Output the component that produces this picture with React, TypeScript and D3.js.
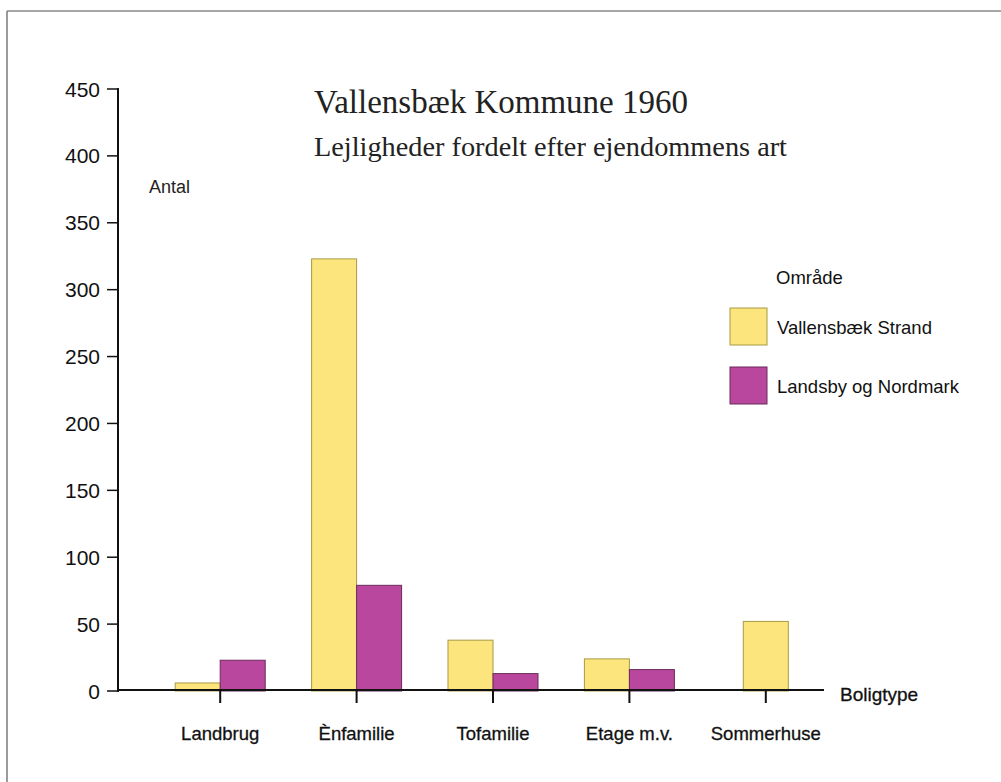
import React from "react";
import * as d3 from "d3";

// Lejligheder fordelt efter ejendommens art, Vallensbæk Kommune 1960
const categories = ["Landbrug", "Ènfamilie", "Tofamilie", "Etage m.v.", "Sommerhuse"];
const seriesNames = ["Vallensbæk Strand", "Landsby og Nordmark"];
const strandValues = [6, 323, 38, 24, 52];
const landsbyValues: (number | null)[] = [23, 79, 13, 16, null];
const yTicks = [0, 50, 100, 150, 200, 250, 300, 350, 400, 450];

const colors = ["#fce57c", "#b9479d"];
const strokes = ["#a89a45", "#6b2a5c"];

const W = 1001;
const H = 782;

const App = () => {
  const y = d3.scaleLinear().domain([0, 450]).range([691, 89]);

  const x0 = d3.scaleBand().domain(categories).range([152, 834]).padding(0);
  const groupW = 90;
  const x1 = d3.scaleBand().domain(seriesNames).range([0, groupW]).padding(0);

  const rows = categories.map((c, i) => ({
    cat: c,
    vals: [strandValues[i], landsbyValues[i]],
  }));

  const center = (c: string) => (x0(c) ?? 0) + x0.bandwidth() / 2;
  const sans = "'Liberation Sans', Arial, sans-serif";
  const serif = "'Liberation Serif', 'Times New Roman', serif";
  const axisX0 = 118;
  const axisX1 = 824;
  const y0 = y(0);

  return (
    <svg
      width={W}
      height={H}
      style={{ position: "absolute", left: 0, top: 0, background: "#fff" }}
    >
      {/* frame remnants */}
      <line x1={7} y1={11} x2={W} y2={11} stroke="#8a8a8a" strokeWidth={1.5} />
      <line x1={7} y1={11} x2={7} y2={H} stroke="#7a7a7a" strokeWidth={1.5} />

      {/* title */}
      <text x={314} y={113} fontFamily={serif} fontSize={33} fill="#222">
        Vallensbæk Kommune 1960
      </text>
      <text x={314} y={156} fontFamily={serif} fontSize={28.3} fill="#222">
        Lejligheder fordelt efter ejendommens art
      </text>

      <text x={149} y={193} fontFamily={sans} fontSize={18} fill="#222">
        Antal
      </text>

      {/* bars */}
      {rows.map((r) => {
        const single = r.vals[1] == null;
        return r.vals.map((v, j) => {
          if (v == null) return null;
          const bw = x1.bandwidth();
          const xs = single
            ? center(r.cat) - bw / 2
            : (x0(r.cat) ?? 0) + (x0.bandwidth() - groupW) / 2 + (x1(seriesNames[j]) ?? 0);
          return (
            <rect
              key={r.cat + j}
              x={xs}
              y={y(v)}
              width={bw}
              height={y0 - y(v)}
              fill={colors[j]}
              stroke={strokes[j]}
              strokeWidth={1}
            />
          );
        });
      })}

      {/* y axis */}
      <line x1={axisX0} y1={y(450) - 1} x2={axisX0} y2={y0 + 1} stroke="#111" strokeWidth={2} />
      {yTicks.map((t) => (
        <g key={t}>
          <line x1={axisX0 - 11} x2={axisX0} y1={y(t)} y2={y(t)} stroke="#111" strokeWidth={1.5} />
          <text
            x={100}
            y={y(t)}
            dy="0.36em"
            textAnchor="end"
            fontFamily={sans}
            fontSize={21}
            fill="#111"
          >
            {t}
          </text>
        </g>
      ))}

      {/* x axis */}
      <line x1={axisX0} y1={y0 - 1} x2={axisX1} y2={y0 - 1} stroke="#111" strokeWidth={2} />
      {categories.map((c) => {
        const cx = center(c);
        return (
          <g key={c}>
            <line x1={cx} x2={cx} y1={y0} y2={y0 + 12} stroke="#111" strokeWidth={2} />
            <text
              x={cx}
              y={740}
              textAnchor="middle"
              fontFamily={sans}
              fontSize={18.5}
              fill="#111"
              stroke="#111"
              strokeWidth={0.3}
            >
              {c}
            </text>
          </g>
        );
      })}
      <text
        x={840}
        y={701}
        fontFamily={sans}
        fontSize={19}
        fill="#111"
        stroke="#111"
        strokeWidth={0.3}
      >
        Boligtype
      </text>

      {/* legend */}
      <text x={776} y={284} fontFamily={sans} fontSize={18.5} fill="#111">
        Område
      </text>
      {seriesNames.map((s, j) => (
        <g key={s} transform={`translate(730,${308 + j * 59})`}>
          <rect width={37} height={37} fill={colors[j]} stroke={strokes[j]} strokeWidth={1} />
          <text x={47} y={19} dy="0.36em" fontFamily={sans} fontSize={18.5} fill="#111">
            {s}
          </text>
        </g>
      ))}
    </svg>
  );
};

export default App;
